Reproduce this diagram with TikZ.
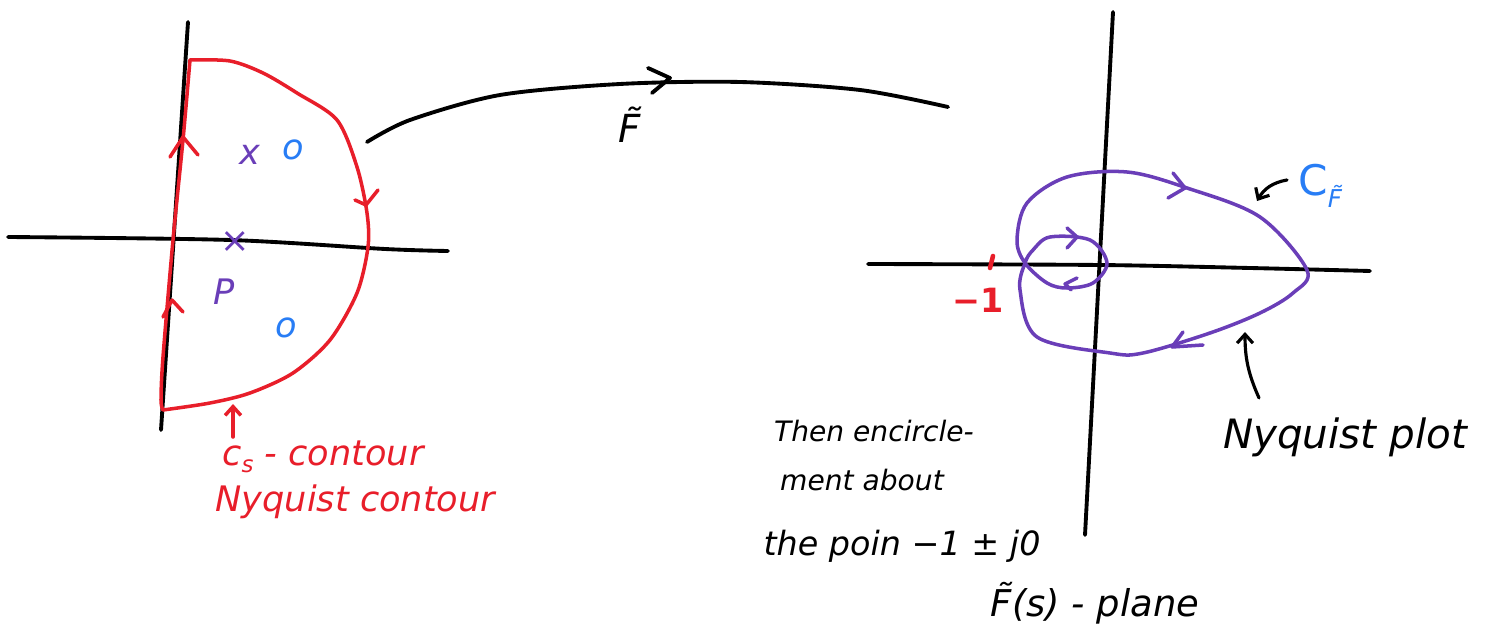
\documentclass[tikz,border=0pt]{standalone}
\usepackage{fontspec}
\setmainfont{DejaVu Sans}
\usetikzlibrary{arrows.meta}
\definecolor{hred}{RGB}{232,30,42}
\definecolor{hpurple}{RGB}{106,62,184}
\definecolor{hblue}{RGB}{40,125,245}
\newcommand{\tF}{F̃}
\tikzset{
  axis/.style={line width=2.2pt, line cap=round, line join=round, black},
  redline/.style={line width=2pt, line cap=round, line join=round, hred},
  purpline/.style={line width=2pt, line cap=round, line join=round, hpurple},
  blackline/.style={line width=2.2pt, line cap=round, line join=round, black},
  hand/.style={font=\fontsize{17}{21}\selectfont\itshape, inner sep=0pt},
  arr/.style={-{Straight Barb[length=5pt,width=9pt]}}
}
\begin{document}
\begin{tikzpicture}[x=0.02cm,y=-0.02cm]
\useasboundingbox (0,0) rectangle (1493,641);
% ---------- left s-plane ----------
\draw[axis] (188,22) -- (161,430);
\draw[axis] plot[smooth] coordinates {(8,237) (230,240) (385,249) (448,251)};
% C_s contour
\draw[redline] plot[smooth] coordinates {(190,60) (230,61) (263,73) (297,93) (337,120) (357,167) (367,213) (368,247) (357,293) (330,340) (293,373) (250,393) (210,403) (163,410)};
\draw[redline] plot[smooth] coordinates {(163,410) (161,400) (163,357) (173,240) (183,140) (190,60)};
\draw[redline] (170,157) -- (183,137) -- (198,155);
\draw[redline] (163,317) -- (172,300) -- (183,312);
\draw[redline] (355,200) -- (366,205) -- (378,190);
% poles and zeros
\node[hand, text=hpurple, font=\fontsize{20}{22}\selectfont\itshape] (p1) at (250,155) {x};
\node[hand, text=hblue, font=\fontsize{20}{22}\selectfont\itshape] (z1) at (293,150) {o};
\node[hand, text=hpurple, font=\fontsize{20}{22}\selectfont] (p2) at (235,242) {×};
\node[hand, text=hpurple, font=\fontsize{20}{22}\selectfont\itshape] (plab) at (224,292) {P};
\node[hand, text=hblue, font=\fontsize{20}{22}\selectfont\itshape] (z2) at (286,328) {o};
% labels
\node[hand, text=hred, font=\fontsize{20}{24}\selectfont\itshape, anchor=west] (cs) at (222,457) {c\raisebox{-4pt}{\fontsize{13}{14}\selectfont s} - contour};
\node[hand, text=hred, font=\fontsize{20}{24}\selectfont\itshape, anchor=west] (nyc) at (215,502) {Nyquist contour};
\coordinate (csTip) at (233,404);
\coordinate (csTail) at (233,437);
\draw[redline, arr] (csTail) -- (csTip);
% ---------- mapping arrow ----------
\coordinate (mapA) at (367,142);
\coordinate (mapB) at (948,107);
\draw[blackline] plot[smooth] coordinates {(mapA) (410,120) (500,95) (620,84) (740,82) (860,90) (mapB)};
\draw[blackline] (648,68) -- (670,78) -- (652,93);
\node[hand, font=\fontsize{22}{24}\selectfont\itshape] (Fmap) at (630,125) {\tF};
% ---------- right F-plane ----------
\draw[axis] (1113,12) -- (1085,535);
\draw[axis] plot[smooth] coordinates {(868,264) (1100,265) (1250,268) (1370,271)};
\draw[purpline] plot[smooth cycle, tension=0.55] coordinates {
 (1307,270) (1260,217) (1187,188) (1127,172) (1067,177) (1027,203) (1017,240) (1025,263)
 (1047,283) (1067,288) (1093,283) (1107,263) (1090,240) (1050,237) (1033,250) (1025,263)
 (1020,290) (1037,337) (1110,353) (1143,353) (1210,333) (1260,313) (1293,293)};
\draw[purpline] (1173,173) -- (1185,188) -- (1168,198);
\draw[purpline] (1067,228) -- (1077,237) -- (1067,248);
\draw[purpline] (1077,278) -- (1065,284) -- (1071,290);
\draw[purpline] (1183,332) -- (1172,347) -- (1203,345);
% -1 point
\draw[redline, line width=2.6pt] (993,256) -- (990,268);
\node[hand, text=hred, font=\fontsize{19}{21}\selectfont\bfseries] (m1) at (978,300) {−1};
% C_F label
\node[hand, text=hblue, font=\fontsize{24}{26}\selectfont, anchor=west] (CF) at (1298,186) {C\raisebox{-7pt}{\fontsize{14}{15}\selectfont\itshape\tF}};
\coordinate (cfTail) at (1287,180);
\coordinate (cfTip) at (1257,201);
\draw[blackline, line width=1.8pt, arr] (cfTail) to[bend right=25] (cfTip);
% Nyquist plot label
\node[hand, font=\fontsize{23}{26}\selectfont\itshape] (nyp) at (1345,437) {Nyquist plot};
\coordinate (nyTail) at (1259,398);
\coordinate (nyTip) at (1245,332);
\draw[blackline, line width=1.8pt, arr] (nyTail) to[bend left=12] (nyTip);
% encirclement text
\node[hand, font=\fontsize{16}{18}\selectfont\itshape] (t1) at (874,431) {Then encircle-};
\node[hand, font=\fontsize{16}{18}\selectfont\itshape] (t2) at (862,480) {ment about};
\node[hand, font=\fontsize{19}{22}\selectfont\itshape] (t3) at (902,546) {the poin −1 ± j0};
\node[hand, font=\fontsize{21}{24}\selectfont\itshape] (fs) at (1095,603) {\tF(s) - plane};
\end{tikzpicture}
\end{document}
